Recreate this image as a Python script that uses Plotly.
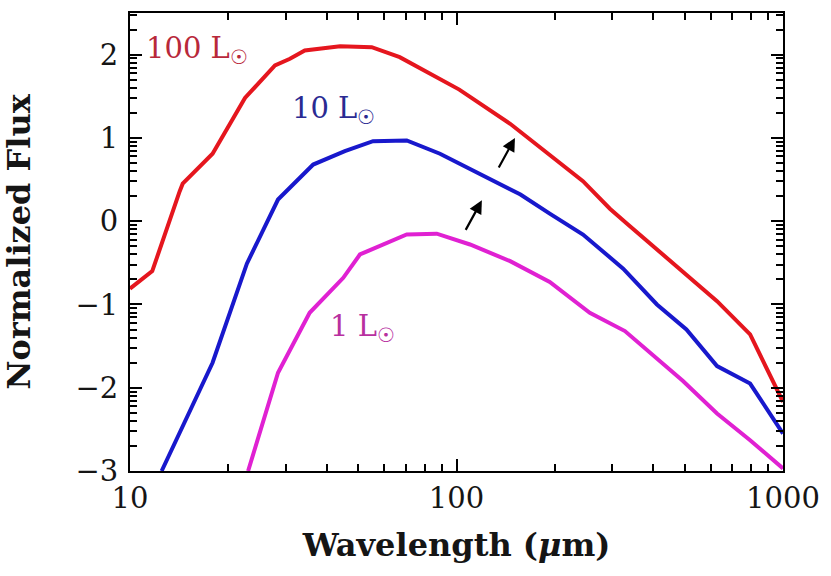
import numpy as np
import plotly.graph_objects as go

# ---- data ----
red_x = [10, 11.7, 14.2, 14.5, 17.9, 22.5, 27.8, 30.9, 34.3, 44, 55, 67, 102, 146, 244, 295, 335, 494, 628, 793, 1000]
red_y = [-0.81, -0.60, 0.36, 0.45, 0.81, 1.48, 1.87, 1.95, 2.05, 2.10, 2.09, 1.97, 1.58, 1.17, 0.48, 0.15, -0.04, -0.60, -0.96, -1.36, -2.17]

blue_x = [12.5, 17.9, 22.8, 28.4, 36.4, 45.5, 55.5, 70.4, 89, 118, 157, 193, 244, 324, 411, 506, 628, 793, 1000]
blue_y = [-3.0, -1.70, -0.51, 0.26, 0.68, 0.84, 0.96, 0.97, 0.81, 0.57, 0.32, 0.09, -0.16, -0.57, -1.00, -1.30, -1.74, -1.95, -2.55]

mag_x = [23, 28.4, 35.5, 45, 50.6, 56, 70.4, 87, 110, 146, 193, 256, 328, 494, 628, 793, 1000]
mag_y = [-3.0, -1.82, -1.10, -0.68, -0.40, -0.33, -0.16, -0.15, -0.28, -0.48, -0.73, -1.10, -1.32, -1.92, -2.31, -2.63, -2.97]

labels = ["100 L<sub>☉</sub>", "10 L<sub>☉</sub>", "1 L<sub>☉</sub>"]
x_ticks = [10, 100, 1000]
y_ticks = [-3, -2, -1, 0, 1, 2]

RED, BLUE, MAG = "#e5161e", "#1818cc", "#e021d2"
RED_T, BLUE_T, MAG_T = "#b8283a", "#2a2a92", "#b8309f"
FONT = "DejaVu Serif"
INK = "#151515"

# minor tick values
x_minor = [m * d for d in (10, 100) for m in range(2, 10)]
y_minor = [float(n + np.log10(k)) for n in range(-3, 3) for k in range(2, 10) if n + np.log10(k) <= 2.5]

fig = go.Figure()
for xs, ys, c in [(red_x, red_y, RED), (blue_x, blue_y, BLUE), (mag_x, mag_y, MAG)]:
    fig.add_trace(go.Scatter(x=xs, y=ys, mode="lines", line=dict(color=c, width=4), showlegend=False))

fig.update_layout(
    xaxis=dict(
        type="log", range=[1, 3], tickmode="array", tickvals=x_ticks, ticktext=[str(v) for v in x_ticks],
        ticks="inside", ticklen=12, tickwidth=2, tickcolor="black",
        showline=True, linecolor="black", linewidth=2, mirror="allticks",
        showgrid=False, zeroline=False,
        minor=dict(tickmode="array", tickvals=x_minor, ticks="inside", ticklen=7, tickwidth=1.5,
                   tickcolor="black", showgrid=False),
        tickfont=dict(family=FONT, size=29, color=INK),
        title=dict(text="Wavelength (<i>μ</i>m)", font=dict(family=FONT, size=32, color=INK, weight="bold"), standoff=20),
    ),
    yaxis=dict(
        range=[-3, 2.5], tickmode="array", tickvals=y_ticks,
        ticktext=[("−" if v < 0 else "") + str(abs(v)) for v in y_ticks],
        ticks="inside", ticklen=12, tickwidth=2, tickcolor="black",
        showline=True, linecolor="black", linewidth=2, mirror="allticks",
        showgrid=False, zeroline=False, ticklabelstandoff=4,
        minor=dict(tickmode="array", tickvals=y_minor, ticks="inside", ticklen=7, tickwidth=1.5,
                   tickcolor="black", showgrid=False),
        tickfont=dict(family=FONT, size=29, color=INK),
        title=dict(text="Normalized Flux", font=dict(family=FONT, size=32, color=INK, weight="bold"), standoff=42),
    ),
)

# curve labels
for txt, lx, ly, col in [(labels[0], 11.0, 2.06, RED_T), (labels[1], 30.9, 1.34, BLUE_T), (labels[2], 40.4, -1.28, MAG_T)]:
    fig.add_annotation(x=np.log10(lx), y=ly, xref="x", yref="y", text=txt, showarrow=False,
                       xanchor="left", yanchor="middle", font=dict(family=FONT, size=29, color=col))

# arrows
for hx, hy in [(151, 1.0), (119.6, 0.25)]:
    fig.add_annotation(x=np.log10(hx), y=hy, xref="x", yref="y", text="", showarrow=True,
                       ax=-17, ay=31, arrowhead=2, arrowsize=1.2, arrowwidth=2.2, arrowcolor="black")

fig.update_layout(
    width=831, height=576, margin=dict(l=130, r=48, t=11, b=105),
    plot_bgcolor="white", paper_bgcolor="white",
)
fig.write_html("out.html")
